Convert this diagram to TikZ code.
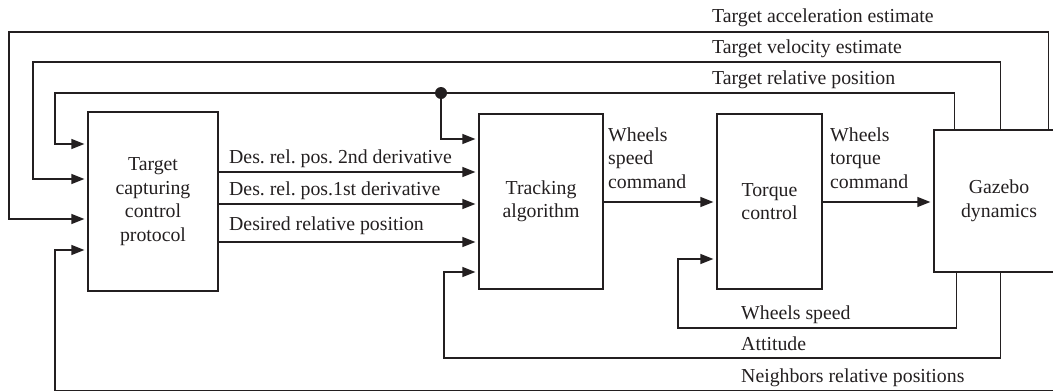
\documentclass[tikz,border=0pt]{standalone}
\usepackage{fontspec}
\setmainfont{Liberation Serif}
\usetikzlibrary{arrows.meta}
\definecolor{ink}{RGB}{35,31,32}
\frenchspacing
\begin{document}
\begin{tikzpicture}[x=1pt,y=-1pt,
  txt/.style={font=\fontsize{19.8}{23.5}\selectfont, text=ink},
  block/.style={txt, draw=ink, line width=1.3pt, align=center, inner sep=0pt},
  wire/.style={draw=ink, line width=1.3pt},
  arr/.style={wire, -{Triangle[length=13pt,width=10pt]}, shorten >=3pt},
  lbl/.style={txt, anchor=base west, inner sep=0pt}]
\useasboundingbox (0,0) rectangle (1053,391);
\clip (0,0) rectangle (1053,391);

% blocks
\node[block, minimum width=130pt, minimum height=179pt] (b1) at (153,201.5)
  {Target\\capturing\\control\\protocol};
\node[block, minimum width=124pt, minimum height=175pt] (b2) at (541,201.5)
  {Tracking\\algorithm};
\node[block, minimum width=105pt, minimum height=175pt] (b3) at (769.5,201.5)
  {Torque\\control};
\node[block, minimum width=130pt, minimum height=142pt] (gz) at (999,201)
  {Gazebo\\dynamics};

% forward signals
\draw[arr] (b1.east |- 0,172) -- (b2.west |- 0,172);
\draw[arr] (b1.east |- 0,204) -- (b2.west |- 0,204);
\draw[arr] (b1.east |- 0,242) -- (b2.west |- 0,242);
\draw[arr] (b2.east |- 0,202) -- (b3.west |- 0,202);
\draw[arr] (b3.east |- 0,202) -- (gz.west |- 0,202);

% feedback from the top of the dynamics block
\coordinate (dot) at (441,93);
\draw[arr] ([xshift=21pt]gz.north west) |- (55,93) |- (b1.west |- 0,144);
\draw[arr] (dot) |- (b2.west |- 0,139);
\fill[ink] (dot) circle (6pt);
\draw[arr] ([xshift=67pt]gz.north west) |- (33,62) |- (b1.west |- 0,179);
\draw[arr] ([xshift=115pt]gz.north west) |- (9,32) |- (b1.west |- 0,219);

% feedback from the bottom of the dynamics block
\draw[arr] ([xshift=23pt]gz.south west) |- (678,328) |- (b3.west |- 0,259);
\draw[arr] ([xshift=67pt]gz.south west) |- (444,358) |- (b2.west |- 0,272);
\draw[arr] ([xshift=124pt]gz.south west) |- (55,391) |- (b1.west |- 0,250);

% signal labels
\node[lbl] (la) at (712,22) {Target acceleration estimate};
\node[lbl] (lv) at (712,53) {Target velocity estimate};
\node[lbl] (lp) at (712,84) {Target relative position};
\node[lbl] (d2) at (229,163) {Des. rel. pos. 2nd derivative};
\node[lbl] (d1) at (229,195) {Des. rel. pos.1st derivative};
\node[lbl] (d0) at (229,230) {Desired relative position};
\node[lbl] (ws1) at (608,141) {Wheels};
\node[lbl] (ws2) at (608,164) {speed};
\node[lbl] (ws3) at (608,188) {command};
\node[lbl] (wt1) at (830,141) {Wheels};
\node[lbl] (wt2) at (830,164) {torque};
\node[lbl] (wt3) at (830,188) {command};
\node[lbl] (lws) at (741,319) {Wheels speed};
\node[lbl] (lat) at (741,350) {Attitude};
\node[lbl] (lnb) at (741,382) {Neighbors relative positions};
\end{tikzpicture}
\end{document}
